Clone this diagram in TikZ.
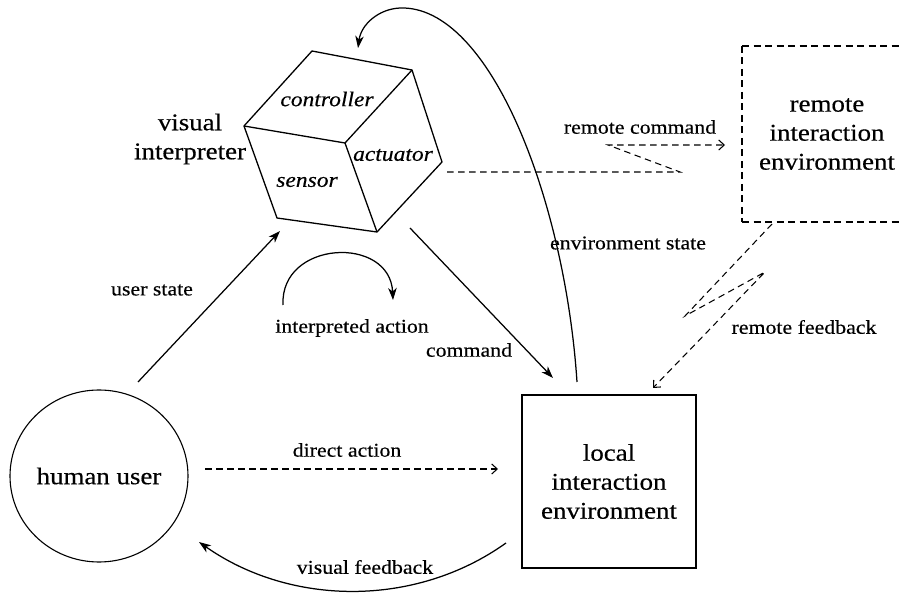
\documentclass[tikz,border=0pt]{standalone}
\usepackage{fontspec}
\setmainfont{Liberation Serif}[FakeStretch=1.12,FakeBold=0.4]
\usetikzlibrary{arrows.meta,shapes.geometric}
\begin{document}
\begin{tikzpicture}[x=1pt,y=-1pt,
  bigtxt/.style={font=\fontsize{24}{29}\selectfont, align=center, inner sep=0pt},
  smalltxt/.style={font=\fontsize{19.5}{22}\selectfont, inner sep=0pt},
  cubetxt/.style={font=\fontsize{21}{24}\selectfont\itshape, inner sep=0pt},
  cubeline/.style={line width=1.3pt, line join=round},
  sol/.style={line width=1.25pt, -{Stealth[length=12pt,width=8.5pt,inset=3.5pt]}},
  dsh/.style={line width=1.05pt, dash pattern=on 6.5pt off 4.5pt, -{Straight Barb[length=5.5pt,width=10pt]}},
  dshbox/.style={line width=1.05pt, dash pattern=on 7pt off 4.5pt}]
\useasboundingbox (0,0) rectangle (906,593);

% nodes
\node[bigtxt] (vi) at (190,139) {visual\\interpreter};
\node[bigtxt] (remote) at (827,134) {remote\\interaction\\environment};
\node[draw, line width=1.3pt, minimum width=174pt, minimum height=173pt, bigtxt] (local) at (609,481.5) {local\\interaction\\environment};
\node[ellipse, draw, line width=1.1pt, minimum width=178pt, minimum height=172pt, bigtxt] (human) at (99,476) {human user};

% remote box (cut by the right margin: no right side)
\coordinate (rbA) at (899,46);
\coordinate (rbB) at (742,46);
\coordinate (rbC) at (742,222);
\coordinate (rbD) at (899,222);
\draw[dshbox] (rbB) -- (rbA);
\draw[dshbox] (rbB) -- (rbC);
\draw[dshbox] (rbC) -- (rbD);

% cube
\coordinate (ct) at (312,51);
\coordinate (ctr) at (412,70);
\coordinate (cl) at (244,126);
\coordinate (cc) at (345,143);
\coordinate (cr) at (442,162);
\coordinate (cbl) at (277,218);
\coordinate (cbr) at (377,232);
\draw[cubeline] (ct) -- (ctr) -- (cr) -- (cbr) -- (cbl) -- (cl) -- cycle;
\draw[cubeline] (cl) -- (cc) -- (ctr);
\draw[cubeline] (cc) -- (cbr);
\node[cubetxt] (ctrl) at (327,99) {controller};
\node[cubetxt] (act) at (393,155) {actuator};
\node[cubetxt] (sens) at (307,182) {sensor};

% labels
\node[smalltxt] (lus) at (152,290) {user state};
\node[smalltxt] (lia) at (352,328) {interpreted action};
\node[smalltxt] (lcm) at (469,350) {command};
\node[smalltxt] (lda) at (347,450) {direct action};
\node[smalltxt] (lvf) at (365,567) {visual feedback};
\node[smalltxt] (les) at (628,243) {environment state};
\node[smalltxt] (lrc) at (640,127) {remote command};
\node[smalltxt] (lrf) at (804,327) {remote feedback};

% connectors
\coordinate (us0) at (138,382);
\coordinate (us1) at (280,231);
\draw[sol] (us0) -- (us1);

\coordinate (cm0) at (410,228);
\coordinate (cm1) at (553,378);
\draw[sol] (cm0) -- (cm1);

\coordinate (es0) at (577,382);
\coordinate (es1) at (400,8);
\coordinate (es2) at (358,48);
\draw[sol] (es0) .. controls (565,200) and (490,5) .. (es1) .. controls (378,9) and (361,25) .. (es2);

\coordinate (ia0) at (283,305);
\coordinate (ia1) at (393,300);
\draw[sol] (ia0) .. controls (280,240) and (390,235) .. (ia1);

\coordinate (vf0) at (506,543);
\coordinate (vf1) at (199,542);
\draw[sol] (vf0) .. controls (415,608) and (290,606) .. (vf1);

\coordinate (da0) at (205,469);
\coordinate (da1) at (498,469);
\draw[dsh] (da0) -- (da1);

\coordinate (rc0) at (447,172);
\coordinate (rc1) at (680,172);
\coordinate (rc2) at (608,145);
\coordinate (rc3) at (725,145);
\draw[dsh] (rc0) -- (rc1) -- (rc2) -- (rc3);

\coordinate (rf0) at (772,224);
\coordinate (rf1) at (685,316);
\coordinate (rf2) at (765,272);
\coordinate (rf3) at (653,388);
\draw[dsh] (rf0) -- (rf1) -- (rf2) -- (rf3);
\end{tikzpicture}
\end{document}
